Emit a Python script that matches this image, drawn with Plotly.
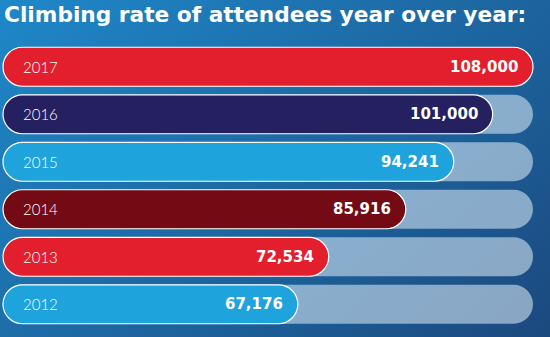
import base64
import plotly.graph_objects as go

# ---- data ----
years = ["2017", "2016", "2015", "2014", "2013", "2012"]
attendees = [108000, 101000, 94241, 85916, 72534, 67176]
value_labels = ["108,000", "101,000", "94,241", "85,916", "72,534", "67,176"]
bar_colors = ["#e31f2e", "#25205f", "#1fa3dd", "#740a13", "#e31f2e", "#1fa3dd"]
title_text = "Climbing rate of attendees year over year:"

axis_start = 16000      # truncated baseline of the graphic
track_max = 108000      # full-length background track

# ---- layout geometry ----
W, H = 550, 337
ML, MR, MT, MB = 0, 0, 43, 9
bar_left_px, bar_right_px = 3, 533
ppu = (bar_right_px - bar_left_px) / (track_max - axis_start)
x_range = [axis_start - (bar_left_px - ML) / ppu,
           track_max + (W - MR - bar_right_px) / ppu]

# background gradient as an SVG image
svg = (
    f'<svg xmlns="http://www.w3.org/2000/svg" width="{W}" height="{H}">'
    '<defs><linearGradient id="g" gradientUnits="userSpaceOnUse" '
    'x1="0" y1="0" x2="398" y2="467">'
    '<stop offset="0" stop-color="#1f88c9"/>'
    '<stop offset="1" stop-color="#1b497e"/>'
    '</linearGradient></defs>'
    f'<rect width="{W}" height="{H}" fill="url(#g)"/></svg>'
)
svg_uri = "data:image/svg+xml;base64," + base64.b64encode(svg.encode()).decode()

fig = go.Figure()

# background tracks
fig.add_trace(go.Bar(
    y=years, x=[track_max - axis_start] * len(years), base=axis_start,
    orientation="h",
    marker=dict(color="rgba(205,222,238,0.62)", cornerradius="50%",
                line=dict(width=0)),
    hoverinfo="skip", showlegend=False,
))

# value bars
fig.add_trace(go.Bar(
    y=years, x=[v - axis_start for v in attendees], base=axis_start,
    orientation="h",
    marker=dict(color=bar_colors, cornerradius="50%",
                line=dict(color="white", width=1.2)),
    showlegend=False,
))

annotations = []
for i, (yr, v, lab) in enumerate(zip(years, attendees, value_labels)):
    # y given as category index (a "2017" string would be read as an index)
    annotations.append(dict(
        x=axis_start, y=i, xref="x", yref="y", text=yr, showarrow=False,
        xanchor="left", xshift=18, yanchor="middle",
        font=dict(family="Lato", size=15, color="white", weight=300),
    ))
    annotations.append(dict(
        x=v, y=i, xref="x", yref="y", text=lab, showarrow=False,
        xanchor="right", xshift=-13, yanchor="middle",
        font=dict(family="DejaVu Sans", size=15, color="white", weight="bold"),
    ))

plot_w = W - ML - MR
plot_h = H - MT - MB

hidden = dict(showticklabels=False, showgrid=False, zeroline=False,
              showline=False, ticks="")

fig.update_layout(
    width=W, height=H,
    margin=dict(l=ML, r=MR, t=MT, b=MB),
    paper_bgcolor="#1d6aa8",
    plot_bgcolor="rgba(0,0,0,0)",
    barmode="overlay",
    bargap=0.18,
    xaxis=dict(range=x_range, **hidden),
    yaxis=dict(type="category", range=[len(years) - 0.5, -0.5], **hidden),
    title=dict(
        text=title_text, xref="container", yref="container",
        x=4 / W, xanchor="left", y=1 - 7 / H, yanchor="top",
        font=dict(family="DejaVu Sans", size=21.7, color="white", weight="bold"),
    ),
    annotations=annotations,
    images=[dict(
        source=svg_uri, xref="paper", yref="paper",
        x=-ML / plot_w, y=1 + MT / plot_h,
        sizex=W / plot_w, sizey=H / plot_h,
        xanchor="left", yanchor="top", sizing="stretch", layer="below",
    )],
)

fig.write_html("out.html")
